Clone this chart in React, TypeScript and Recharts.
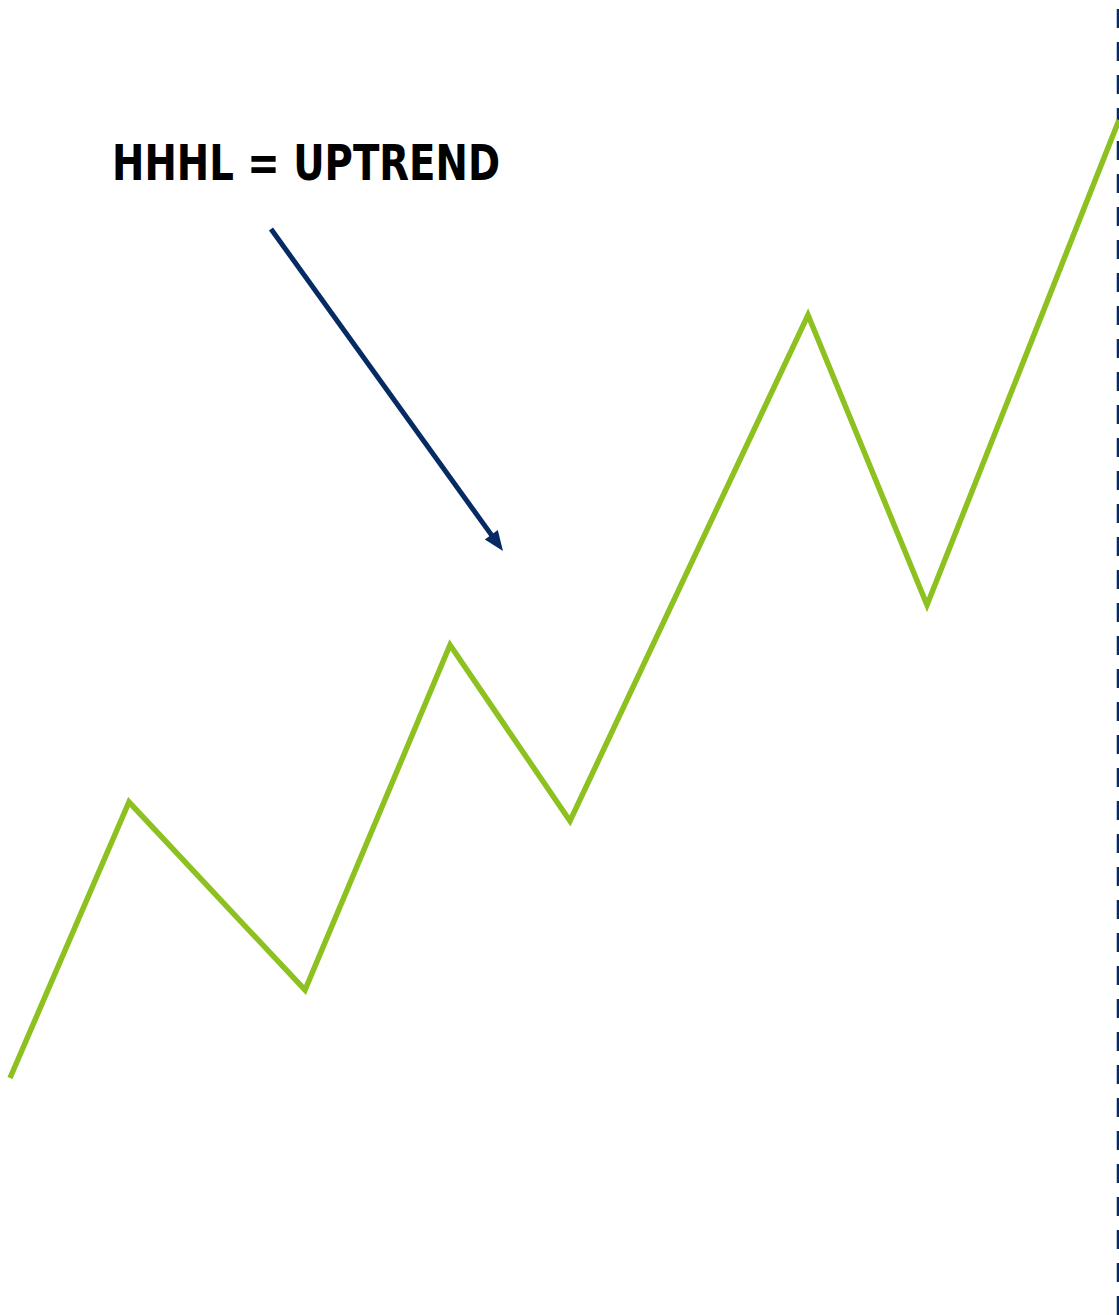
import { LineChart, Line, XAxis, YAxis, ReferenceLine, Customized } from "recharts";

// swing points of the uptrend (x position, price level)
const swingX = [10, 129, 305, 450, 570, 808, 927, 1119];
const swingPrice = [237, 513, 325, 670, 494, 1000, 710, 1195];

// arrow pointing to the higher low
const arrowFrom = { x: 271, y: 1086 };
const arrowTo = { x: 503, y: 764 };

const title = "HHHL = UPTREND";

const data = swingX.map((x, i) => ({ x, price: swingPrice[i] }));

const GREEN = "#8cc11f";
const NAVY = "#062a63";

function Arrow(props: any) {
  const { x1, y1, x2, y2 } = props;
  const dx = x2 - x1;
  const dy = y2 - y1;
  const len = Math.sqrt(dx * dx + dy * dy);
  const ux = dx / len;
  const uy = dy / len;
  const head = 20;
  const half = 8;
  const bx = x2 - ux * head;
  const by = y2 - uy * head;
  const pts = [
    `${x2},${y2}`,
    `${bx - uy * half},${by + ux * half}`,
    `${bx + uy * half},${by - ux * half}`,
  ].join(" ");
  return (
    <g>
      <line x1={x1} y1={y1} x2={bx + ux * 2} y2={by + uy * 2} stroke={NAVY} strokeWidth={5} />
      <polygon points={pts} fill={NAVY} />
    </g>
  );
}

export default function App() {
  return (
    <div style={{ position: "absolute", left: 0, top: 0, background: "#fff" }}>
      <LineChart width={1119} height={1315} data={data} margin={{ top: 0, right: 0, bottom: 0, left: 0 }}>
        <XAxis dataKey="x" type="number" domain={[0, 1119]} hide />
        <YAxis type="number" domain={[0, 1315]} hide />
        <ReferenceLine x={1118} stroke={NAVY} strokeWidth={2.5} strokeDasharray="19 14" />
        <Line
          dataKey="price"
          type="linear"
          stroke={GREEN}
          strokeWidth={5.5}
          strokeLinecap="butt"
          strokeLinejoin="miter"
          dot={false}
          activeDot={false}
          isAnimationActive={false}
        />
        <ReferenceLine segment={[arrowFrom, arrowTo]} shape={Arrow} />
        <Customized
          component={() => (
            <text
              x={112}
              y={180}
              fontFamily="DejaVu Sans"
              fontWeight="bold"
              fontSize={50}
              textLength={388}
              lengthAdjust="spacingAndGlyphs"
              fill="#000"
            >
              {title}
            </text>
          )}
        />
      </LineChart>
    </div>
  );
}
